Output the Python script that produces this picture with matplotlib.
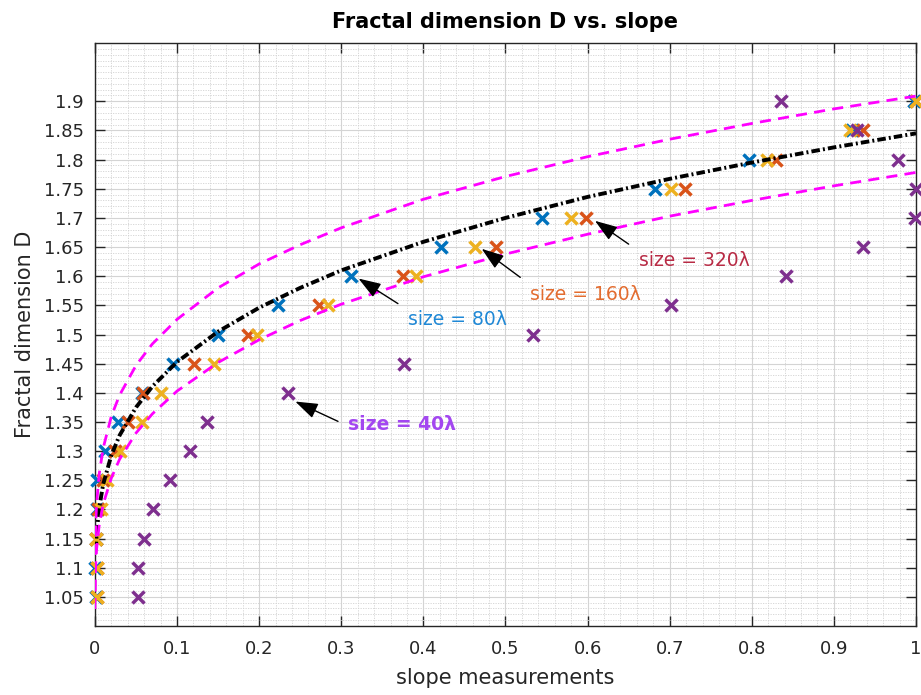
import matplotlib
matplotlib.use("Agg")
import matplotlib.pyplot as plt
from matplotlib.ticker import MultipleLocator

# fractal dimension levels (y) shared by all four series
D_levels = [1.05, 1.10, 1.15, 1.20, 1.25, 1.30, 1.35, 1.40, 1.45,
            1.50, 1.55, 1.60, 1.65, 1.70, 1.75, 1.80, 1.85, 1.90]

slope_80 = [0.001, 0.000, 0.001, 0.002, 0.003, 0.012, 0.028, 0.057, 0.095,
            0.150, 0.223, 0.312, 0.422, 0.544, 0.682, 0.797, 0.922, 0.998]
slope_160 = [0.002, 0.002, 0.001, 0.004, 0.010, 0.024, 0.040, 0.058, 0.121,
             0.186, 0.273, 0.375, 0.489, 0.598, 0.719, 0.830, 0.936, 1.000]
slope_320 = [0.002, 0.002, 0.001, 0.007, 0.015, 0.031, 0.057, 0.080, 0.145,
             0.197, 0.284, 0.391, 0.463, 0.580, 0.702, 0.818, 0.920, 1.000]
slope_40 = [0.053, 0.053, 0.060, 0.071, 0.091, 0.116, 0.137, 0.235, 0.376,
            0.533, 0.701, 0.842, 0.936, 0.999, 1.000, 0.978, 0.928, 0.836]

# fitted curve and its bounds
fit_x = [0.001, 0.002, 0.005, 0.01, 0.02, 0.03, 0.05, 0.07, 0.1, 0.15,
         0.2, 0.25, 0.3, 0.4, 0.5, 0.6, 0.7, 0.8, 0.9, 1.0]
fit_y = [1.130, 1.157, 1.201, 1.243, 1.293, 1.327, 1.375, 1.411, 1.453, 1.505,
         1.546, 1.580, 1.610, 1.659, 1.700, 1.736, 1.767, 1.795, 1.821, 1.845]

bound_x = [0.00001, 0.0001, 0.0005, 0.001, 0.002, 0.005, 0.01, 0.02, 0.03, 0.05,
           0.07, 0.1, 0.15, 0.2, 0.25, 0.3, 0.4, 0.5, 0.6, 0.7, 0.8, 0.9, 1.0]
upper_y = [1.059, 1.102, 1.150, 1.177, 1.208, 1.259, 1.305, 1.360, 1.396, 1.447,
           1.484, 1.526, 1.580, 1.621, 1.654, 1.683, 1.732, 1.771, 1.805, 1.835,
           1.862, 1.887, 1.909]
lower_y = [1.029, 1.056, 1.089, 1.108, 1.132, 1.171, 1.209, 1.254, 1.286, 1.331,
           1.364, 1.403, 1.452, 1.491, 1.524, 1.552, 1.599, 1.638, 1.672, 1.703,
           1.730, 1.755, 1.778]

# annotations: label, text position, arrow tail, arrow tip, colour, weight
notes = [
    ("size = 40\u03bb", (0.308, 1.345), (0.296, 1.351), (0.244, 1.385), "#A347F0", "bold"),
    ("size = 80\u03bb", (0.381, 1.525), (0.369, 1.553), (0.321, 1.596), "#1F88D6", "normal"),
    ("size = 160\u03bb", (0.530, 1.568), (0.518, 1.598), (0.471, 1.647), "#E36C2F", "normal"),
    ("size = 320\u03bb", (0.662, 1.627), (0.650, 1.655), (0.609, 1.695), "#B82B45", "normal"),
]

dark = "#262626"
plt.rcParams["font.family"] = ["DejaVu Sans"]

fig = plt.figure(figsize=(9.21, 6.95), dpi=100)
ax = fig.add_axes([0.1031, 0.0993, 0.8915, 0.8388])

mk = dict(marker="x", linestyle="none", markersize=8, markeredgewidth=2.5,
          clip_on=False, zorder=3)
ax.plot(slope_80, D_levels, color="#0072BD", **mk)
ax.plot(slope_160, D_levels, color="#D95319", **mk)
ax.plot(slope_320, D_levels, color="#EDB120", **mk)
ax.plot(slope_40, D_levels, color="#7E2F8E", **mk)

ax.plot(fit_x, fit_y, color="black", lw=2.8,
        linestyle=(0, (2.2, 0.8, 0.5, 0.8)), zorder=4)
ax.plot(bound_x, upper_y, color="#FF00FF", lw=2.0,
        linestyle=(0, (4.0, 2.6)), zorder=4)
ax.plot(bound_x, lower_y, color="#FF00FF", lw=2.0,
        linestyle=(0, (4.0, 2.6)), zorder=4)

for label, tpos, tail, tip, col, wt in notes:
    ax.annotate("", xy=tip, xytext=tail,
                arrowprops=dict(arrowstyle="-|>,head_length=1.15,head_width=0.4",
                                color="black", lw=1.0, shrinkA=0, shrinkB=0,
                                mutation_scale=12),
                zorder=5)
    ax.text(tpos[0], tpos[1], label, color=col, fontsize=13.5, fontweight=wt,
            ha="left", va="center", zorder=5)

ax.set_xlim(0, 1)
ax.set_ylim(1, 2)
ax.set_xticks([0, 0.1, 0.2, 0.3, 0.4, 0.5, 0.6, 0.7, 0.8, 0.9, 1])
ax.set_xticklabels(["0", "0.1", "0.2", "0.3", "0.4", "0.5", "0.6", "0.7", "0.8", "0.9", "1"])
yt = [1.05, 1.1, 1.15, 1.2, 1.25, 1.3, 1.35, 1.4, 1.45, 1.5, 1.55, 1.6,
      1.65, 1.7, 1.75, 1.8, 1.85, 1.9]
ax.set_yticks(yt)
ax.set_yticklabels([("%g" % v) for v in yt])
ax.xaxis.set_minor_locator(MultipleLocator(0.02))
ax.yaxis.set_minor_locator(MultipleLocator(0.01))

ax.tick_params(which="major", direction="in", length=7, width=1.0, color=dark,
               labelcolor=dark, labelsize=13, top=True, right=True)
ax.tick_params(axis="y", which="major", pad=8)
ax.tick_params(axis="x", which="major", pad=10)
ax.tick_params(which="minor", length=0, top=True, right=True)

ax.grid(True, which="major", color="#d4d4d4", linewidth=0.8, zorder=0)
ax.grid(True, which="minor", color="#d2d2d2", linewidth=0.6,
        linestyle=(0, (1.5, 1.5)), zorder=0)
ax.set_axisbelow(True)

for s in ax.spines.values():
    s.set_color(dark)
    s.set_linewidth(1.0)

ax.set_title("Fractal dimension D vs. slope", fontsize=15, fontweight="bold",
             color="black", pad=11)
ax.set_xlabel("slope measurements", fontsize=15, color=dark, labelpad=7)
ax.set_ylabel("Fractal dimension D", fontsize=15, color=dark, labelpad=6)

fig.savefig("out.png", dpi=100)
